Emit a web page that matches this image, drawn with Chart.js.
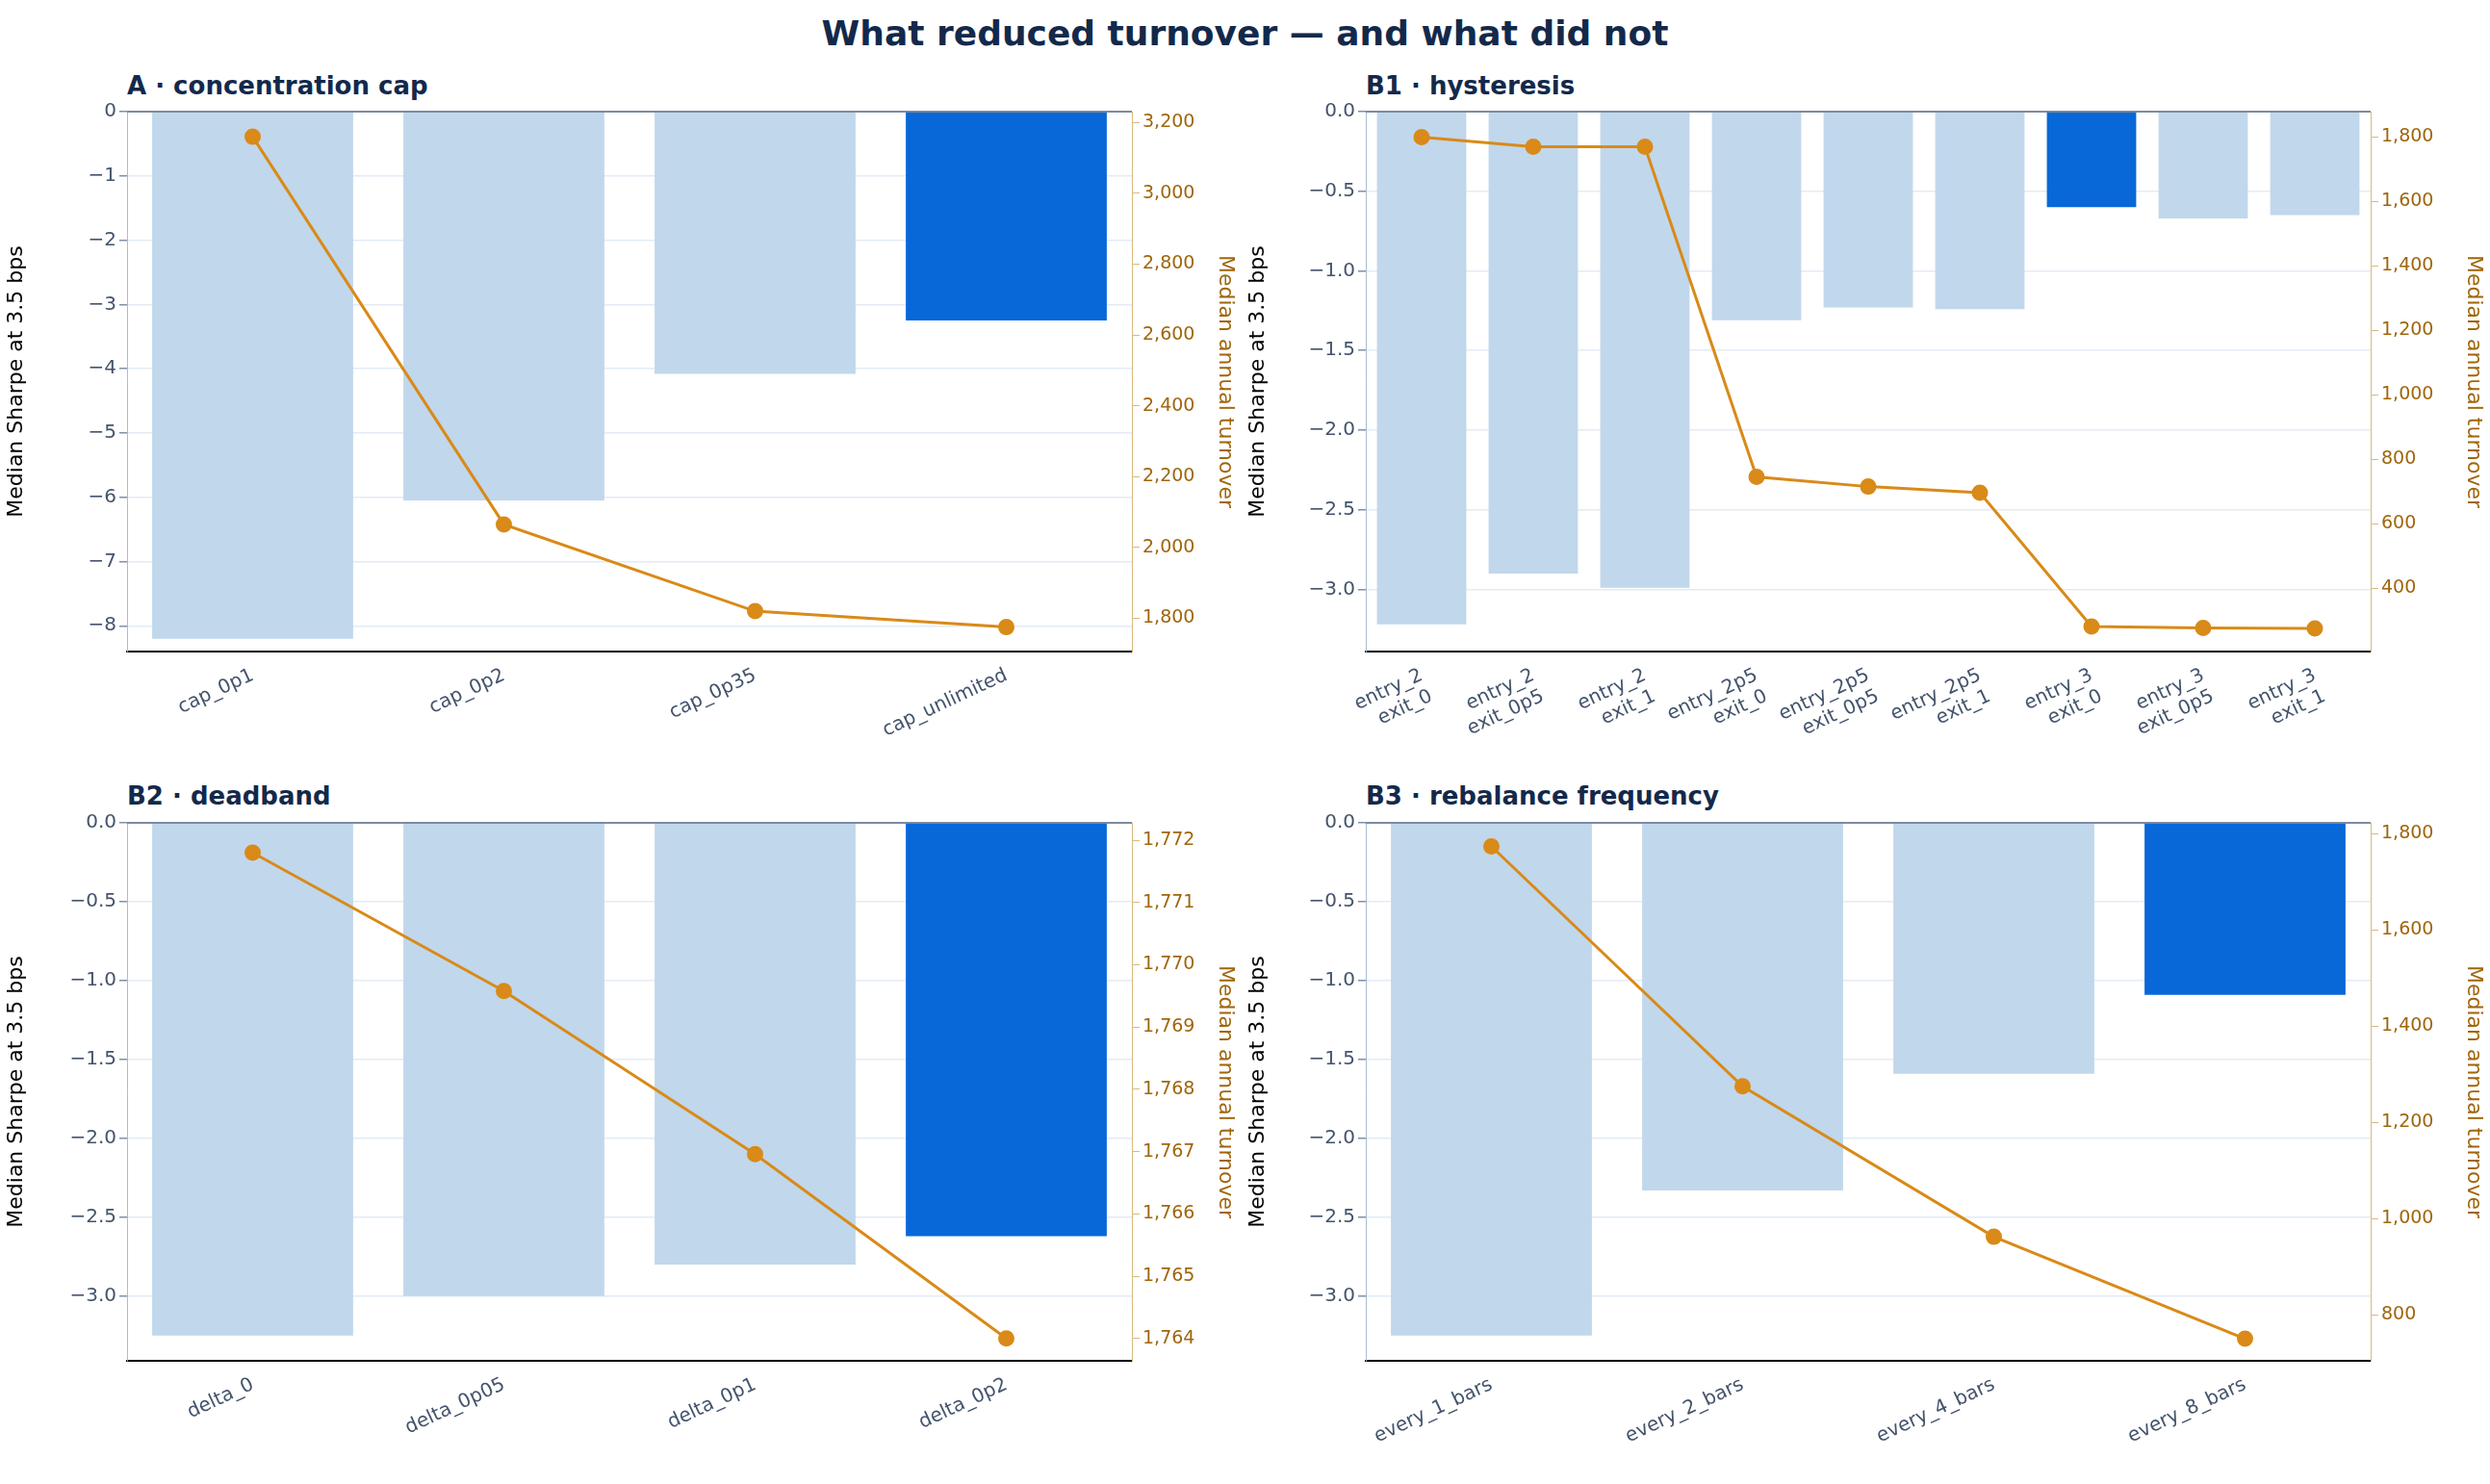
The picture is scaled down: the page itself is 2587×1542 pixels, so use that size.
<!DOCTYPE html>
<html><head><meta charset="utf-8">
<script src="https://cdn.jsdelivr.net/npm/chart.js@4.4.0/dist/chart.umd.min.js"></script>
<style>
body{margin:0;width:2587px;height:1542px;background:#fff;font-family:"DejaVu Sans";overflow:hidden;position:relative}
.c{position:absolute}
.t{position:absolute;font-weight:bold;color:#13294b;white-space:nowrap}
</style></head><body>
<div class="t" style="left:0;width:2587px;text-align:center;top:14px;font-size:36px">What reduced turnover — and what did not</div>
<div class="t" style="left:132px;top:74px;font-size:26px">A · concentration cap</div>
<div class="t" style="left:1419px;top:74px;font-size:26px">B1 · hysteresis</div>
<div class="t" style="left:132px;top:812px;font-size:26px">B2 · deadband</div>
<div class="t" style="left:1419px;top:812px;font-size:26px">B3 · rebalance frequency</div>
<div class="c" style="left:0;top:100px;width:1290px;height:680px"><canvas id="cA"></canvas></div>
<div class="c" style="left:1290px;top:100px;width:1297px;height:680px"><canvas id="cB1"></canvas></div>
<div class="c" style="left:0;top:839px;width:1290px;height:691px"><canvas id="cB2"></canvas></div>
<div class="c" style="left:1290px;top:839px;width:1297px;height:691px"><canvas id="cB3"></canvas></div>
<script>
const catsA=["cap_0p1","cap_0p2","cap_0p35","cap_unlimited"];
const sharpeA=[-8.2,-6.05,-4.08,-3.25];
const turnA=[3160,2065,1820,1775];
const ticksLA=[0,-1,-2,-3,-4,-5,-6,-7,-8];
const ticksRA=[1800,2000,2200,2400,2600,2800,3000,3200];

const catsB1=[["entry_2","exit_0"],["entry_2","exit_0p5"],["entry_2","exit_1"],["entry_2p5","exit_0"],["entry_2p5","exit_0p5"],["entry_2p5","exit_1"],["entry_3","exit_0"],["entry_3","exit_0p5"],["entry_3","exit_1"]];
const sharpeB1=[-3.22,-2.9,-2.99,-1.31,-1.23,-1.24,-0.6,-0.67,-0.65];
const turnB1=[1800,1770,1770,745,715,696,281,276,275];
const ticksLB=[0,-0.5,-1,-1.5,-2,-2.5,-3];
const ticksRB1=[400,600,800,1000,1200,1400,1600,1800];

const catsB2=["delta_0","delta_0p05","delta_0p1","delta_0p2"];
const sharpeB2=[-3.25,-3.0,-2.8,-2.62];
const turnB2=[1771.8,1769.58,1766.96,1764.0];
const ticksRB2=[1764,1765,1766,1767,1768,1769,1770,1771,1772];

const catsB3=["every_1_bars","every_2_bars","every_4_bars","every_8_bars"];
const sharpeB3=[-3.25,-2.33,-1.59,-1.09];
const turnB3=[1774,1275,962,750];
const ticksRB3=[800,1000,1200,1400,1600,1800];

const LIGHT="#c1d7ec",DARK="#0868d8",ORANGE="#d98a18",BROWN="#a0660c";
const minus=s=>String(s).replace('-','\u2212');

const topLine={id:'topLine',afterDraw(c){const a=c.chartArea,x=c.ctx;x.save();x.strokeStyle='#5a6a80';x.lineWidth=1.5;x.beginPath();x.moveTo(a.left,a.top);x.lineTo(a.right,a.top);x.stroke();x.restore();}};

function make(id,cats,sh,tu,hi,lmin,lticks,ldec,rmin,rmax,rticks,lw,rw,xh,padTop){
  new Chart(document.getElementById(id),{
    data:{labels:cats,datasets:[
      {type:'line',data:tu,yAxisID:'y1',borderColor:ORANGE,backgroundColor:ORANGE,borderWidth:3,pointRadius:7,pointHoverRadius:7,order:0},
      {type:'bar',data:sh,yAxisID:'y',backgroundColor:sh.map((v,i)=>i===hi?DARK:LIGHT),barPercentage:0.8,categoryPercentage:1,order:1}
    ]},
    options:{responsive:true,maintainAspectRatio:false,animation:false,
      layout:{padding:{top:padTop,right:0,left:0,bottom:0}},
      plugins:{legend:{display:false},tooltip:{enabled:false}},
      scales:{
        x:{offset:true,grid:{display:false,drawTicks:true,tickLength:10,tickColor:'#000'},border:{color:'#000',width:2},
          ticks:{color:'#44546c',font:{family:'DejaVu Sans',size:20},minRotation:25,maxRotation:25,autoSkip:false},
          afterFit(s){s.height=xh;}},
        y:{position:'left',min:lmin,max:0,reverse:false,
          afterBuildTicks(s){s.ticks=lticks.map(v=>({value:v}));},
          afterFit(s){s.width=lw;},
          grid:{color:'#e3ebf5',lineWidth:1.5,tickColor:'#8090a8',tickLength:8},border:{color:'#a9bdd6'},
          ticks:{color:'#44546c',font:{family:'DejaVu Sans',size:20},callback:v=>minus(ldec?v.toFixed(1):v)},
          title:{display:true,text:'Median Sharpe at 3.5 bps',color:'#000',font:{family:'DejaVu Sans',size:22}}},
        y1:{position:'right',min:rmin,max:rmax,
          afterBuildTicks(s){s.ticks=rticks.map(v=>({value:v}));},
          afterFit(s){s.width=rw;},
          grid:{drawOnChartArea:false,tickColor:'#d9b980',tickLength:8},border:{color:'#d9b980'},
          ticks:{color:BROWN,font:{family:'DejaVu Sans',size:19}},
          title:{display:true,text:'Median annual turnover',color:BROWN,font:{family:'DejaVu Sans',size:22}}}
      }},
    plugins:[topLine]
  });
}
make('cA',catsA,sharpeA,turnA,3,-8.4,ticksLA,false,1706,3231,ticksRA,132,114,103,16);
make('cB1',catsB1,sharpeB1,turnB1,6,-3.39,ticksLB,true,203,1879,ticksRB1,129,124,103,16);
make('cB2',catsB2,sharpeB2,turnB2,3,-3.41,ticksLB,true,1763.64,1772.28,ticksRB2,132,114,116,16);
make('cB3',catsB3,sharpeB3,turnB3,3,-3.41,ticksLB,true,704,1823,ticksRB3,129,124,116,16);
</script></body></html>
